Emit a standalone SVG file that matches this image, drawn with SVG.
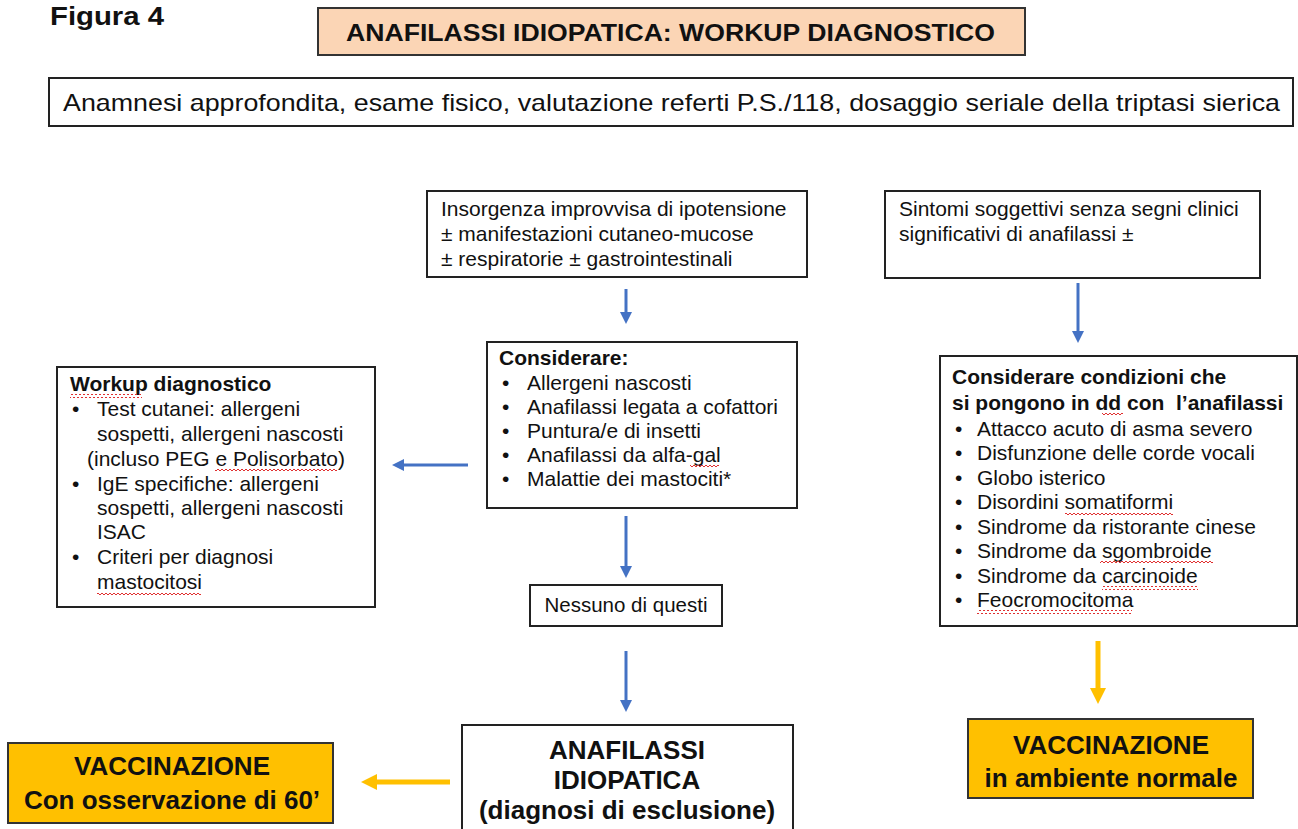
<svg xmlns="http://www.w3.org/2000/svg" width="1298" height="829" viewBox="0 0 1298 829">
  <style>
    text { font-family: "Liberation Sans", Arial, sans-serif; fill: #111; }
    .box { fill: #fff; stroke: #222; stroke-width: 2; }
    .peach { fill: #FBD5B5; stroke: #333; stroke-width: 2; }
    .gold { fill: #FFC000; stroke: #333; stroke-width: 2; }
    .t21 { font-size: 21px; }
    .b21 { font-size: 21px; font-weight: bold; }
    .b26 { font-size: 26px; font-weight: bold; }
    .mid { text-anchor: middle; }
    .blue { stroke: #4472C4; stroke-width: 3; fill: none; }
    .yel { stroke: #FFC000; stroke-width: 5; fill: none; }
    .squig { fill: url(#wave); }
  </style>
  <defs>
    <marker id="ahBlue" viewBox="0 0 10 10" refX="5" refY="5" markerWidth="4" markerHeight="4" orient="auto">
      <path d="M0,0 L10,5 L0,10 z" fill="#4472C4"/>
    </marker>
    <marker id="ahYel" viewBox="0 0 10 10" refX="5" refY="5" markerWidth="3.2" markerHeight="3.2" orient="auto">
      <path d="M0,0 L10,5 L0,10 z" fill="#FFC000"/>
    </marker>
    <!-- spell-check style wavy underline -->
    <pattern id="wave" width="4" height="4" patternUnits="userSpaceOnUse">
      <path d="M0,3 L2,1 L4,3" stroke="#E03030" stroke-width="1" fill="none"/>
    </pattern>
  </defs>

  <text x="50" y="25" style="font-size:25px;font-weight:bold" textLength="114" lengthAdjust="spacingAndGlyphs">Figura 4</text>

  <g id="title">
    <rect class="peach" x="318" y="8" width="707" height="47"/>
    <text x="346" y="41" style="font-size:24px;font-weight:bold" textLength="649" lengthAdjust="spacingAndGlyphs">ANAFILASSI IDIOPATICA: WORKUP DIAGNOSTICO</text>
  </g>

  <g id="anamnesi">
    <rect class="box" x="49" y="78" width="1244" height="48"/>
    <text x="63" y="111" style="font-size:24px" textLength="1217" lengthAdjust="spacingAndGlyphs">Anamnesi approfondita, esame fisico, valutazione referti P.S./118, dosaggio seriale della triptasi sierica</text>
  </g>

  <g id="insorgenza">
    <rect class="box" x="427" y="191" width="380" height="86"/>
    <text class="t21" x="441" y="216">Insorgenza improvvisa di ipotensione</text>
    <text class="t21" x="441" y="241">± manifestazioni cutaneo-mucose</text>
    <text class="t21" x="441" y="266">± respiratorie ± gastrointestinali</text>
  </g>

  <g id="sintomi">
    <rect class="box" x="885" y="191" width="375" height="87"/>
    <text class="t21" x="899" y="216">Sintomi soggettivi senza segni clinici</text>
    <text class="t21" x="899" y="241">significativi di anafilassi ±</text>
  </g>

  <g id="considerare">
    <rect class="box" x="487" y="342" width="310" height="166"/>
    <text class="b21" x="499" y="365">Considerare:</text>
    <g class="t21">
      <text x="502" y="390">•</text><text x="527" y="390">Allergeni nascosti</text>
      <text x="502" y="414">•</text><text x="527" y="414">Anafilassi legata a cofattori</text>
      <text x="502" y="438">•</text><text x="527" y="438">Puntura/e di insetti</text>
      <text x="502" y="462">•</text><text x="527" y="462">Anafilassi da alfa-gal</text>
      <text x="502" y="486">•</text><text x="527" y="486">Malattie dei mastociti*</text>
    </g>
    <rect class="squig" x="690" y="465" width="29" height="4"/>
  </g>

  <g id="workup">
    <rect class="box" x="57" y="367" width="318" height="240"/>
    <text class="b21" x="70" y="391">Workup diagnostico</text>
    <g class="t21">
      <text x="72" y="416">•</text><text x="97" y="416">Test cutanei: allergeni</text>
      <text x="97" y="441">sospetti, allergeni nascosti</text>
      <text x="87" y="466">(incluso PEG e Polisorbato)</text>
      <text x="72" y="491">•</text><text x="97" y="491">IgE specifiche: allergeni</text>
      <text x="97" y="515">sospetti, allergeni nascosti</text>
      <text x="97" y="539">ISAC</text>
      <text x="72" y="564">•</text><text x="97" y="564">Criteri per diagnosi</text>
      <text x="97" y="589">mastocitosi</text>
    </g>
    <rect class="squig" x="70" y="394" width="72" height="4"/>
    <rect class="squig" x="215" y="469" width="122" height="4"/>
    <rect class="squig" x="97" y="592" width="104" height="4"/>
  </g>

  <g id="nessuno">
    <rect class="box" x="530" y="585" width="192" height="41"/>
    <text class="mid" x="626" y="612" style="font-size:20.5px">Nessuno di questi</text>
  </g>

  <g id="idiopatica">
    <rect class="box" x="462" y="725" width="331" height="110"/>
    <text class="b26 mid" x="627" y="759">ANAFILASSI</text>
    <text class="b26 mid" x="627" y="789">IDIOPATICA</text>
    <text class="b26 mid" x="627" y="819">(diagnosi di esclusione)</text>
  </g>

  <g id="vacc60">
    <rect class="gold" x="8" y="743" width="325" height="80"/>
    <text class="b26 mid" x="172" y="775">VACCINAZIONE</text>
    <text class="b26 mid" x="172" y="809">Con osservazione di 60’</text>
  </g>

  <g id="condizioni">
    <rect class="box" x="940" y="356" width="357" height="270"/>
    <text class="b21" x="952" y="384">Considerare condizioni che</text>
    <text class="b21" x="952" y="410" xml:space="preserve">si pongono in dd con  l’anafilassi</text>
    <g class="t21">
      <text x="955" y="436">•</text><text x="977" y="436">Attacco acuto di asma severo</text>
      <text x="955" y="460">•</text><text x="977" y="460">Disfunzione delle corde vocali</text>
      <text x="955" y="485">•</text><text x="977" y="485">Globo isterico</text>
      <text x="955" y="509">•</text><text x="977" y="509">Disordini somatiformi</text>
      <text x="955" y="534">•</text><text x="977" y="534">Sindrome da ristorante cinese</text>
      <text x="955" y="558">•</text><text x="977" y="558">Sindrome da sgombroide</text>
      <text x="955" y="583">•</text><text x="977" y="583">Sindrome da carcinoide</text>
      <text x="955" y="607">•</text><text x="977" y="607">Feocromocitoma</text>
    </g>
    <rect class="squig" x="1102" y="413" width="21" height="4"/>
    <rect class="squig" x="1065" y="512" width="108" height="4"/>
    <rect class="squig" x="1100" y="561" width="113" height="4"/>
    <rect class="squig" x="1102" y="586" width="96" height="4"/>
    <rect class="squig" x="977" y="610" width="155" height="4"/>
  </g>

  <g id="vaccNormale">
    <rect class="gold" x="968" y="719" width="285" height="79"/>
    <text class="b26 mid" x="1111" y="754">VACCINAZIONE</text>
    <text class="b26 mid" x="1111" y="787">in ambiente normale</text>
  </g>

  <g id="connectors">
    <line class="blue" x1="626" y1="289" x2="626" y2="318" marker-end="url(#ahBlue)"/>
    <line class="blue" x1="626" y1="516" x2="626" y2="572" marker-end="url(#ahBlue)"/>
    <line class="blue" x1="626" y1="651" x2="626" y2="706" marker-end="url(#ahBlue)"/>
    <line class="blue" x1="468" y1="465" x2="398" y2="465" marker-end="url(#ahBlue)"/>
    <line class="blue" x1="1078" y1="283" x2="1078" y2="337" marker-end="url(#ahBlue)"/>
    <line class="yel" x1="450" y1="782" x2="369" y2="782" marker-end="url(#ahYel)"/>
    <line class="yel" x1="1098" y1="641" x2="1098" y2="696" marker-end="url(#ahYel)"/>
  </g>
</svg>
